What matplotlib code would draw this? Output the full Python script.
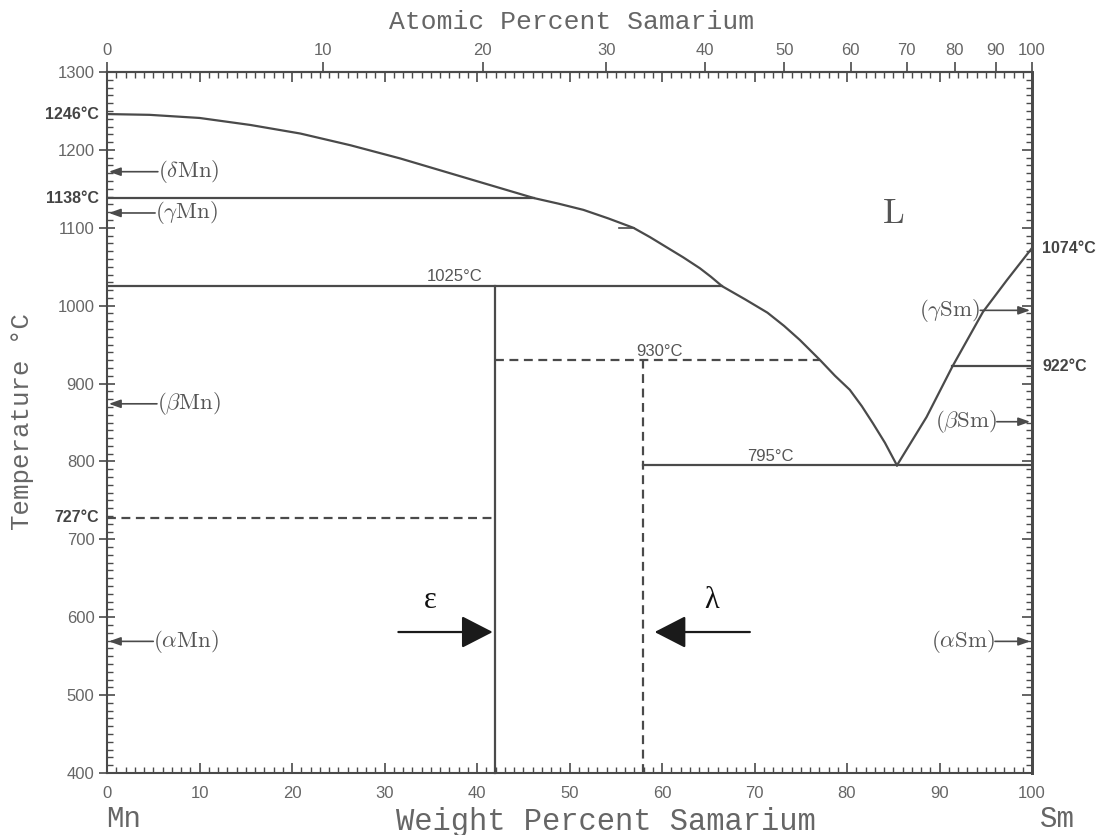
"""
Mn-Sm binary phase diagram (weight % bottom, atomic % top)
"""
import numpy as np
import matplotlib
matplotlib.use('Agg')
import matplotlib.pyplot as plt
from matplotlib.ticker import MultipleLocator

plt.rcParams['mathtext.fontset'] = 'cm'

# atomic masses for the top axis conversion
M_MN = 54.938
M_SM = 150.36

# liquidus, Mn side (wt% Sm, degC)
liq_mn_wt = [0, 4.6, 10, 15.5, 20.9, 26.3, 31.7, 37.1, 42.5, 46.2, 48.8, 51.5, 54.2,
             56.9, 58.7, 60.5, 62.3, 64.1, 65.3, 66.5, 69.0, 71.4, 73.2, 74.9, 76.0,
             77.1, 78.7, 80.3, 81.6, 82.8, 84.1, 85.4]
liq_mn_T = [1246, 1245, 1241, 1232, 1221, 1206, 1189, 1170, 1151, 1138, 1131, 1123, 1112,
            1100, 1088, 1075, 1062, 1048, 1037, 1025, 1008, 991, 974, 956, 943,
            930, 910, 892, 871, 849, 824, 795]

# liquidus, Sm side
liq_sm_wt = [85.4, 88.6, 91.4, 94.7, 97.3, 100]
liq_sm_T = [795, 857, 922, 992, 1033, 1074]

# horizontal invariant lines: x start, x end, temperature, dashed?
h_x0 = [0, 0, 41.9, 57.9, 0, 91.4]
h_x1 = [46.2, 66.5, 77.1, 100, 41.9, 100]
h_T = [1138, 1025, 930, 795, 727, 922]
h_dashed = [False, False, True, False, True, False]

# vertical lines: composition, T bottom, T top, dashed?
v_x = [41.9, 57.9, 100]
v_T0 = [400, 400, 400]
v_T1 = [1025, 930, 1074]
v_dashed = [False, True, False]

# temperature labels
left_T_labels = ['1246°C', '1138°C', '727°C']
left_T_vals = [1246, 1138, 728]
right_T_labels = ['1074°C', '922°C']
right_T_vals = [1074, 922]
mid_T_labels = ['1025°C', '930°C', '795°C']
mid_T_x = [37.6, 59.7, 71.7]
mid_T_y = [1028, 931, 797]

# allotropes of the pure elements
mn_phases = [r'$(\delta\mathrm{Mn})$', r'$(\gamma\mathrm{Mn})$',
             r'$(\beta\mathrm{Mn})$', r'$(\alpha\mathrm{Mn})$']
mn_phase_T = [1172, 1119, 874, 569]
mn_phase_x = [5.5, 5.2, 5.4, 5.0]
sm_phases = [r'$(\gamma\mathrm{Sm})$', r'$(\beta\mathrm{Sm})$', r'$(\alpha\mathrm{Sm})$']
sm_phase_T = [994, 851, 569]
sm_phase_x = [94.4, 96.2, 96.0]

at_ticks = list(range(0, 101, 10))

line_c = '#4a4a4a'
text_c = '#666666'


def wt_to_at(w):
    w = np.clip(np.asarray(w, dtype=float), 0, 100)
    n_sm = w / M_SM
    n_mn = (100 - w) / M_MN
    return 100 * n_sm / (n_sm + n_mn)


def at_to_wt(a):
    a = np.clip(np.asarray(a, dtype=float), 0, 100)
    m_sm = a * M_SM
    m_mn = (100 - a) * M_MN
    return 100 * m_sm / (m_sm + m_mn)


def same(v):
    return v


fig = plt.figure(figsize=(11.06, 8.35), dpi=100)
ax = fig.add_axes([107 / 1106, 62 / 835, 925 / 1106, 701 / 835])
ax.set_xlim(0, 100)
ax.set_ylim(400, 1300)

# phase boundaries
ax.plot(liq_mn_wt, liq_mn_T, color=line_c, lw=1.6)
ax.plot(liq_sm_wt, liq_sm_T, color=line_c, lw=1.6)
for x0, x1, t, d in zip(h_x0, h_x1, h_T, h_dashed):
    ax.plot([x0, x1], [t, t], color=line_c, lw=1.6,
            ls=(0, (4, 2.5)) if d else '-')
for x, t0, t1, d in zip(v_x, v_T0, v_T1, v_dashed):
    ax.plot([x, x], [t0, t1], color=line_c, lw=2.0 if x == 100 else 1.6,
            ls=(0, (4, 2.5)) if d else '-', clip_on=False)
# small tick on the liquidus near 1100
ax.plot([55.4, 57.0], [1100, 1100], color=line_c, lw=1.2)

# temperature labels
for lab, t in zip(left_T_labels, left_T_vals):
    ax.text(-0.9, t, lab, ha='right', va='center', fontsize=11.5, fontweight='bold',
            family='Liberation Sans', color='#444444', clip_on=False)
for lab, t in zip(right_T_labels, right_T_vals):
    ax.text(101.1, t, lab, ha='left', va='center', fontsize=11.5, fontweight='bold',
            family='Liberation Sans', color='#444444', clip_on=False)
for lab, x, t in zip(mid_T_labels, mid_T_x, mid_T_y):
    ax.text(x, t, lab, ha='center', va='bottom', fontsize=12,
            family='Liberation Sans', color='#555555')

# allotrope labels with arrows to the pure element axes
small_arrow = dict(arrowstyle='-|>,head_length=0.7,head_width=0.25', mutation_scale=10,
                   lw=1.2, color=line_c, shrinkA=0, shrinkB=0)
for lab, t, x in zip(mn_phases, mn_phase_T, mn_phase_x):
    ax.annotate('', xy=(0.2, t), xytext=(x, t), arrowprops=small_arrow)
    ax.text(x, t, lab, ha='left', va='center', fontsize=16.5, color='#555555')
for lab, t, x in zip(sm_phases, sm_phase_T, sm_phase_x):
    ax.annotate('', xy=(99.8, t), xytext=(x, t), arrowprops=small_arrow)
    ax.text(x, t, lab, ha='right', va='center', fontsize=16.5, color='#555555')

ax.text(85.0, 1119, r'$\mathrm{L}$', ha='center', va='center', fontsize=25, color='#555555')

# epsilon and lambda phase markers
big_arrow = dict(arrowstyle='-|>,head_length=1.4,head_width=0.72', mutation_scale=14,
                 lw=1.6, color='#1a1a1a', shrinkA=0, shrinkB=0)
ax.annotate('', xy=(41.7, 581), xytext=(31.5, 581), arrowprops=big_arrow)
ax.annotate('', xy=(59.2, 581), xytext=(69.5, 581), arrowprops=big_arrow)
ax.text(34.9, 622, 'ε', ha='center', va='center', fontsize=22,
        family='Liberation Serif', color='#111111')
ax.text(65.4, 622, 'λ', ha='center', va='center', fontsize=22,
        family='Liberation Serif', color='#111111')

# axes styling
for s in ax.spines.values():
    s.set_color(line_c)
    s.set_linewidth(1.5)
ax.spines['right'].set_linewidth(2.0)

ax.xaxis.set_major_locator(MultipleLocator(10))
ax.xaxis.set_minor_locator(MultipleLocator(1))
ax.yaxis.set_major_locator(MultipleLocator(100))
ax.yaxis.set_minor_locator(MultipleLocator(10))
ax.tick_params(axis='x', which='major', direction='in', length=7, width=1.2,
               top=True, bottom=True, color=line_c, labelcolor=text_c, labelsize=12, pad=9)
ax.tick_params(axis='x', which='minor', direction='in', length=4, width=1,
               top=True, bottom=True, color=line_c)
ax.tick_params(axis='y', which='major', direction='inout', length=12, width=1.2,
               right=False, color=line_c, labelcolor=text_c, labelsize=12, pad=3)
ax.tick_params(axis='y', which='minor', direction='in', length=4, width=1,
               right=False, color=line_c)
for lab in ax.get_xticklabels() + ax.get_yticklabels():
    lab.set_family('Liberation Sans')

# right side: inward ticks only, no labels
right = ax.secondary_yaxis('right', functions=(same, same))
right.yaxis.set_major_locator(MultipleLocator(100))
right.yaxis.set_minor_locator(MultipleLocator(10))
right.tick_params(which='major', direction='in', length=7, width=1.2, color=line_c,
                  labelright=False)
right.tick_params(which='minor', direction='in', length=4, width=1, color=line_c)
right.spines['right'].set_color(line_c)
right.spines['right'].set_linewidth(2.0)

top = ax.secondary_xaxis('top', functions=(wt_to_at, at_to_wt))
top.set_xticks(at_ticks)
top.tick_params(direction='out', length=7, width=1.2, color=line_c,
                labelcolor=text_c, labelsize=12, pad=3)
top.spines['top'].set_color(line_c)
top.spines['top'].set_linewidth(1.5)
for lab in top.get_xticklabels():
    lab.set_family('Liberation Sans')

# axis titles in typewriter style
fig.text(572 / 1106, 1 - 22 / 835, 'Atomic Percent Samarium', ha='center', va='center',
         family='Liberation Mono', fontsize=19, color=text_c)
fig.text(606 / 1106, 1 - 822 / 835, 'Weight Percent Samarium', ha='center', va='center',
         family='Liberation Mono', fontsize=22, color=text_c)
fig.text(22 / 1106, 1 - 421 / 835, 'Temperature °C', ha='center', va='center', rotation=90,
         family='Liberation Mono', fontsize=18.5, color=text_c)
fig.text(124 / 1106, 2 / 835, 'Mn', ha='center', va='bottom',
         family='Liberation Mono', fontsize=21, color=text_c)
fig.text(1057 / 1106, 2 / 835, 'Sm', ha='center', va='bottom',
         family='Liberation Mono', fontsize=21, color=text_c)

fig.savefig('out.png', dpi=100)
plt.close(fig)
